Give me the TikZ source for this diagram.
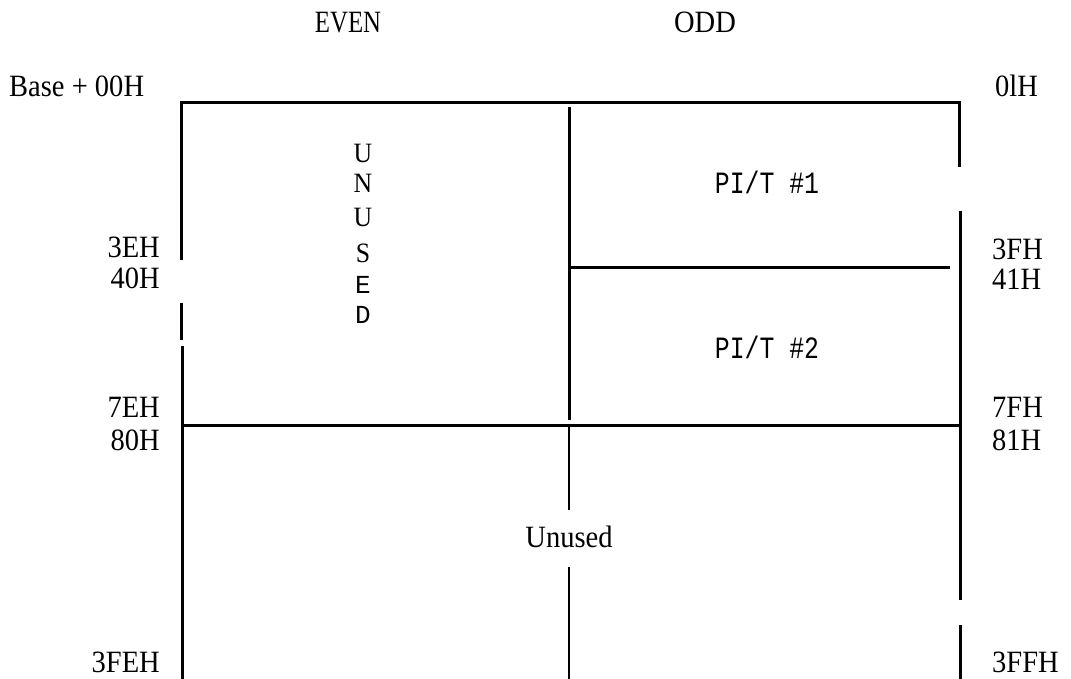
\documentclass[tikz,border=0pt]{standalone}
\usepackage{fontspec}
\setmainfont{Liberation Serif}[FakeStretch=0.92]
\setmonofont{Liberation Mono}
\newfontfamily\narrowserif{Liberation Serif}[FakeStretch=0.8]
\newfontfamily\pitfont{Liberation Mono}[FakeStretch=0.8]
\tikzset{
    addr/.style={font=\fontsize{31}{36}\selectfont, inner sep=0pt},
    pit/.style={font=\pitfont\fontsize{31}{36}\selectfont, inner sep=0pt},
    heavy/.style={line width=3pt},
    light/.style={line width=1.6pt}
}
\begin{document}
\begin{tikzpicture}[x=1pt, y=-1pt]
    \useasboundingbox (0,0) rectangle (1071,679);
    % column heads
    \node (even) at (348,33) [addr, font=\narrowserif\fontsize{31}{36}\selectfont, anchor=base] {EVEN};
    \node (odd) at (705,33) [addr, anchor=base] {ODD};
    % addresses, left side
    \node (a00) at (9,97) [addr, anchor=base west] {Base + 00H};
    \node (a3e) at (160,258) [addr, anchor=base east] {3EH};
    \node (a40) at (160,288) [addr, anchor=base east] {40H};
    \node (a7e) at (160,417) [addr, anchor=base east] {7EH};
    \node (a80) at (160,450) [addr, anchor=base east] {80H};
    \node (a3fe) at (160,672) [addr, anchor=base east] {3FEH};
    % addresses, right side
    \node (a01) at (995,97) [addr, anchor=base west] {0lH};
    \node (a3f) at (992,259) [addr, anchor=base west] {3FH};
    \node (a41) at (992,289) [addr, anchor=base west] {41H};
    \node (a7f) at (992,417) [addr, anchor=base west] {7FH};
    \node (a81) at (992,450) [addr, anchor=base west] {81H};
    \node (a3ff) at (992,672) [addr, anchor=base west] {3FFH};
    % frame
    \draw[heavy] (180,103) -- (959,103) -- (959,167);
    \draw[heavy] (960,211) -- (960,600);
    \draw[heavy] (960,625) -- (960,679);
    \draw[heavy] (181,103) -- (181,260);
    \draw[heavy] (181,303) -- (181,340);
    \draw[heavy] (182,346) -- (182,679);
    \draw[heavy] (181,425) -- (960,425);
    \draw[heavy] (569,107) -- (569,420);
    \draw[heavy] (569,267) -- (950,267);
    \draw[light] (569,427) -- (569,510);
    \draw[light] (569,567) -- (569,679);
    % blocks
    \node (pit1) at (767,182) [pit] {PI/T \#1};
    \node (pit2) at (767,347) [pit] {PI/T \#2};
    \node (unused) at (569,537) [addr] {Unused};
    \foreach \ch/\yy [count=\i] in {U/163, N/193, U/227, S/262} {
        \node (u\i) at (363,\yy) [addr, font=\fontsize{28}{32}\selectfont, anchor=base] {\ch};
    }
    \node (u5) at (363,293) [pit, font=\ttfamily\fontsize{26}{30}\selectfont, anchor=base] {E};
    \node (u6) at (363,323) [pit, font=\ttfamily\fontsize{26}{30}\selectfont, anchor=base] {D};
\end{tikzpicture}
\end{document}
